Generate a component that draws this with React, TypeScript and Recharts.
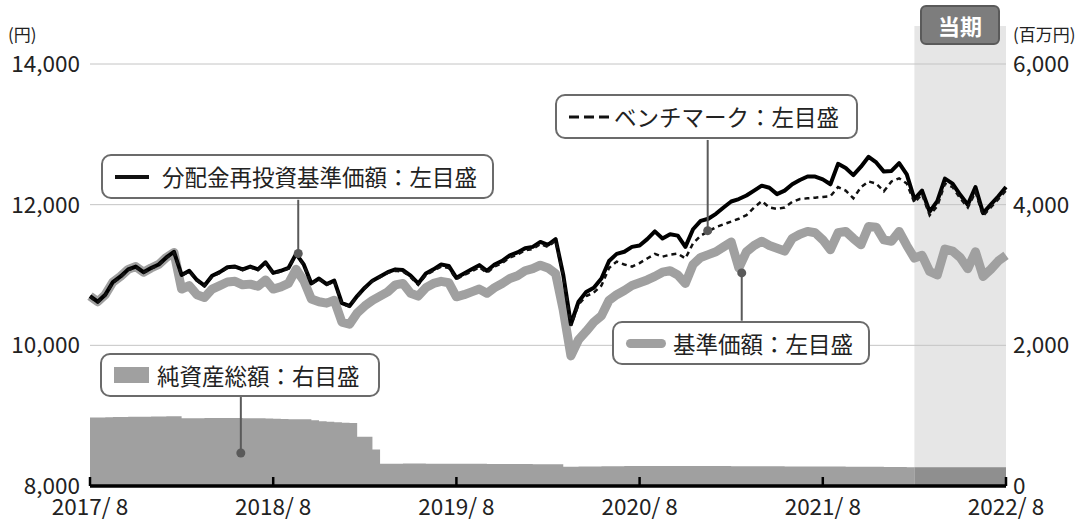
import {
  ComposedChart,
  Line,
  Area,
  XAxis,
  YAxis,
  ReferenceArea,
  ReferenceLine,
  ReferenceDot,
} from 'recharts';

// x axis = months since 2017/8, half-month steps
const START_YEAR = 2017;
const TICK_MONTHS = [0, 12, 24, 36, 48, 60];
const LEFT_TICKS = [8000, 10000, 12000, 14000];
const RIGHT_TICKS = [0, 2000, 4000, 6000];
const CURRENT_START = 54; // 2022/2 当期

const months = Array.from({ length: 121 }, (_, i) => i / 2);

// 分配金再投資基準価額 (円)
const reinvested = [
  10700, 10620, 10720, 10900, 10980, 11080, 11120, 11040, 11100, 11150,
  11250, 11330, 11000, 11060, 10930, 10850, 10990, 11040, 11110, 11120,
  11080, 11120, 11080, 11180, 11030, 11060, 11100, 11300, 11150, 10880,
  10950, 10870, 10920, 10600, 10560, 10700, 10820, 10920, 10980, 11040,
  11080, 11070, 10990, 10880, 11020, 11080, 11150, 11130, 10960, 11020,
  11080, 11140, 11060, 11150, 11200, 11280, 11320, 11380, 11400, 11470,
  11430, 11510, 11000, 10300, 10620, 10760, 10820, 10950, 11200, 11300,
  11330, 11400, 11420, 11510, 11620, 11520, 11580, 11560, 11400, 11650,
  11770, 11800, 11870, 11960, 12045, 12080, 12130, 12200, 12270, 12240,
  12150, 12200, 12290, 12350, 12400, 12400, 12360, 12290, 12580, 12520,
  12420, 12540, 12680, 12600, 12470, 12480, 12590, 12430, 12080, 12200,
  11900, 12050, 12370, 12300, 12140, 12000, 12250, 11880, 12000, 12120,
  12250,
];

// ベンチマーク (円)
const benchmark = [
  10690, 10610, 10710, 10890, 10970, 11070, 11110, 11030, 11090, 11140,
  11240, 11320, 10990, 11050, 10920, 10840, 10980, 11030, 11100, 11110,
  11070, 11110, 11070, 11170, 11020, 11050, 11090, 11290, 11140, 10870,
  10940, 10860, 10910, 10590, 10550, 10690, 10810, 10910, 10970, 11030,
  11060, 11050, 10970, 10860, 11000, 11060, 11120, 11100, 10940, 11000,
  11050, 11110, 11030, 11120, 11170, 11250, 11290, 11350, 11370, 11440,
  11400, 11490, 10980, 10280, 10580, 10700, 10750, 10850, 11100, 11190,
  11150, 11120, 11170, 11235, 11300, 11260, 11290, 11305, 11235, 11450,
  11560, 11620, 11680, 11720, 11760, 11800, 11850, 11960, 12050, 11960,
  11940, 11960, 12040, 12080, 12090, 12100, 12110, 12120, 12250, 12200,
  12090, 12250, 12330, 12300, 12190, 12330, 12375, 12300, 12030, 12150,
  11850, 11980, 12300, 12250, 12090, 11960, 12180, 11840, 11960, 12080,
  12200,
];

// 基準価額 (円)
const basePrice = [
  10700, 10620, 10720, 10900, 10980, 11080, 11120, 11040, 11100, 11150,
  11250, 11320, 10800, 10850, 10720, 10680, 10800, 10850, 10900, 10910,
  10860, 10870, 10840, 10930, 10800, 10830, 10880, 11080, 10920, 10660,
  10620, 10600, 10640, 10330, 10300, 10460, 10560, 10640, 10700, 10760,
  10860, 10880, 10740, 10700, 10820, 10880, 10910, 10890, 10690, 10720,
  10760, 10800, 10740, 10820, 10880, 10950, 10990, 11060, 11090, 11140,
  11100, 11020, 10500, 9850, 10080, 10200, 10330, 10420, 10640, 10720,
  10780, 10850, 10890, 10930, 10980, 11040, 11060, 11000, 10880, 11150,
  11250, 11290, 11330, 11400, 11470, 11100, 11330, 11420, 11480, 11420,
  11380, 11340, 11520, 11580, 11620, 11600, 11500, 11360, 11600, 11620,
  11520, 11430, 11690, 11680, 11500, 11480, 11620, 11420, 11240, 11280,
  11050, 11000, 11370, 11340, 11250, 11090, 11330, 10980, 11080, 11200,
  11280,
];

// 純資産総額 (百万円)
const netAssets = [
  975, 975, 978, 980, 982, 983, 985, 985, 987, 988,
  990, 990, 963, 965, 965, 966, 966, 967, 968, 966,
  965, 964, 962, 958, 955, 952, 950, 950, 948, 935,
  920, 915, 908, 900, 895, 700, 700, 520, 315, 316,
  318, 320, 320, 319, 318, 318, 317, 316, 316, 315,
  315, 315, 314, 314, 313, 313, 312, 312, 311, 311,
  310, 310, 275, 275, 276, 277, 278, 280, 281, 282,
  283, 284, 285, 285, 286, 286, 286, 285, 285, 285,
  284, 284, 283, 283, 282, 282, 281, 281, 280, 280,
  280, 279, 279, 278, 278, 277, 277, 276, 276, 275,
  275, 274, 273, 272, 271, 270, 269, 268, 266, 266,
  266, 265, 265, 265, 265, 266, 266, 265, 265, 265,
  265,
];

// callout pointers: [month, from, to, axis]
const pointers: [number, number, number, string][] = [
  [13.64, 12070, 11305, 'left'],
  [40.46, 12920, 11630, 'left'],
  [42.69, 10350, 11030, 'left'],
  [9.88, 1265, 470, 'right'],
];

const data = months.map((m, i) => ({
  m,
  reinvested: reinvested[i],
  benchmark: benchmark[i],
  basePrice: basePrice[i],
  assets: m <= CURRENT_START ? netAssets[i] : null,
  assetsCur: m >= CURRENT_START ? netAssets[i] : null,
}));

// plot box (the chart margins below are derived from it)
const W = 1092;
const H = 523;
const PLOT = { left: 90, right: 1006, top: 64, bottom: 486 };
const X_MAX = 60;

const FONT = "'Noto Sans CJK JP', 'Noto Sans', sans-serif";
const TICK_STYLE = { fill: '#222', fontSize: 22.5 };

const box = (left: number, top: number, width: number, height = 45): React.CSSProperties => ({
  position: 'absolute',
  left,
  top,
  width,
  height,
  boxSizing: 'border-box',
  border: '2px solid #6b6b6b',
  borderRadius: 10,
  background: '#fff',
  display: 'flex',
  alignItems: 'center',
  paddingLeft: 12,
  fontSize: 22.5,
  lineHeight: 1,
  color: '#222',
  whiteSpace: 'nowrap',
});

export default function App() {
  const tickX = (m: number) => PLOT.left + (m / X_MAX) * (PLOT.right - PLOT.left);

  return (
    <div style={{ position: 'relative', width: W, height: H, background: '#fff', fontFamily: FONT }}>
      <style>{`body{margin:0}`}</style>
      <ComposedChart
        width={W}
        height={H}
        data={data}
        margin={{ top: PLOT.top, right: W - PLOT.right - 1, bottom: H - PLOT.bottom - 1, left: PLOT.left - 1 }}
      >
        <XAxis
          dataKey="m"
          type="number"
          domain={[0, X_MAX]}
          ticks={TICK_MONTHS}
          height={1}
          axisLine={false}
          tickLine={false}
          tickSize={0}
          tickMargin={13}
          tick={TICK_STYLE}
          tickFormatter={(m: number) => `${START_YEAR + m / 12}/ 8`}
        />
        <YAxis
          yAxisId="left"
          width={1}
          domain={[8000, 14000]}
          ticks={LEFT_TICKS}
          axisLine={false}
          tickLine={false}
          tickSize={0}
          tickMargin={10}
          tick={TICK_STYLE}
          tickFormatter={(v: number) => v.toLocaleString('en-US')}
        />
        <YAxis
          yAxisId="right"
          orientation="right"
          width={1}
          domain={[0, 6000]}
          ticks={RIGHT_TICKS}
          axisLine={false}
          tickLine={false}
          tickSize={0}
          tickMargin={7}
          tick={TICK_STYLE}
          tickFormatter={(v: number) => v.toLocaleString('en-US')}
        />
        <ReferenceArea
          yAxisId="left"
          x1={CURRENT_START}
          x2={X_MAX}
          y1={8000}
          y2={14540}
          ifOverflow="visible"
          fill="#e6e6e6"
          fillOpacity={1}
          stroke="none"
        />
        {LEFT_TICKS.slice(1).map((v) => (
          <ReferenceLine key={`g${v}`} yAxisId="left" y={v} stroke="#c4c4c4" strokeWidth={1} />
        ))}
        <Area
          yAxisId="right"
          dataKey="assets"
          type="stepAfter"
          fill="#a0a0a0"
          fillOpacity={1}
          stroke="none"
          isAnimationActive={false}
        />
        <Area
          yAxisId="right"
          dataKey="assetsCur"
          type="stepAfter"
          fill="#8f8f8f"
          fillOpacity={1}
          stroke="none"
          isAnimationActive={false}
        />
        <Line
          yAxisId="left"
          dataKey="basePrice"
          stroke="#a0a0a0"
          strokeWidth={9}
          strokeLinejoin="round"
          dot={false}
          isAnimationActive={false}
        />
        <Line
          yAxisId="left"
          dataKey="reinvested"
          stroke="#000"
          strokeWidth={4}
          strokeLinejoin="round"
          dot={false}
          isAnimationActive={false}
        />
        <Line
          yAxisId="left"
          dataKey="benchmark"
          stroke="#111"
          strokeWidth={2.5}
          strokeDasharray="5 4"
          dot={false}
          isAnimationActive={false}
        />
        {pointers.map(([m, from, to, axis], i) => (
          <ReferenceLine
            key={`pl${i}`}
            yAxisId={axis}
            segment={[{ x: m, y: from }, { x: m, y: to }]}
            stroke="#5a5a5a"
            strokeWidth={2}
          />
        ))}
        {pointers.map(([m, , to, axis], i) => (
          <ReferenceDot
            key={`pd${i}`}
            yAxisId={axis}
            x={m}
            y={to}
            r={4.5}
            fill="#5a5a5a"
            stroke="none"
          />
        ))}
      </ComposedChart>

      {/* x axis baseline with inner ticks, laid over the net assets area */}
      <svg
        width={W}
        height={H}
        style={{ position: 'absolute', left: 0, top: 0, pointerEvents: 'none' }}
      >
        <line x1={PLOT.left} y1={PLOT.bottom} x2={PLOT.right} y2={PLOT.bottom} stroke="#000" strokeWidth={3.5} />
        {TICK_MONTHS.map((m) => (
          <line
            key={m}
            x1={tickX(m)}
            y1={PLOT.bottom}
            x2={tickX(m)}
            y2={PLOT.bottom - 9}
            stroke="#000"
            strokeWidth={2.5}
          />
        ))}
      </svg>

      {/* axis units */}
      <div style={{ position: 'absolute', left: 8, top: 25, fontSize: 17, lineHeight: 1, color: '#222' }}>(円)</div>
      <div style={{ position: 'absolute', left: 1013, top: 25, fontSize: 17, lineHeight: 1, color: '#222' }}>(百万円)</div>

      {/* 当期 tag */}
      <div
        style={{
          position: 'absolute', left: 920, top: 5, width: 80, height: 40, boxSizing: 'border-box',
          background: '#7d7d7d', border: '2px solid #5a5a5a', borderRadius: 6, color: '#fff',
          fontWeight: 'bold', fontSize: 22, display: 'flex', alignItems: 'center', justifyContent: 'center',
        }}
      >
        当期
      </div>

      {/* callouts */}
      <div style={box(101, 154, 393)}>
        <span style={{ display: 'inline-block', width: 34, height: 4, background: '#111', marginRight: 13 }} />
        分配金再投資基準価額：左目盛
      </div>
      <div style={box(555, 94, 303)}>
        <svg width={40} height={6} style={{ marginRight: 5 }}>
          <line x1={0} y1={3} x2={40} y2={3} stroke="#111" strokeWidth={3} strokeDasharray="10 5" />
        </svg>
        ベンチマーク：左目盛
      </div>
      <div style={box(612, 321, 258, 44)}>
        <span style={{ display: 'inline-block', width: 40, height: 9, borderRadius: 5, background: '#a0a0a0', marginRight: 7 }} />
        基準価額：左目盛
      </div>
      <div style={box(100, 353, 280, 44)}>
        <span style={{ display: 'inline-block', width: 35, height: 16, background: '#a0a0a0', marginRight: 8 }} />
        純資産総額：右目盛
      </div>
    </div>
  );
}
